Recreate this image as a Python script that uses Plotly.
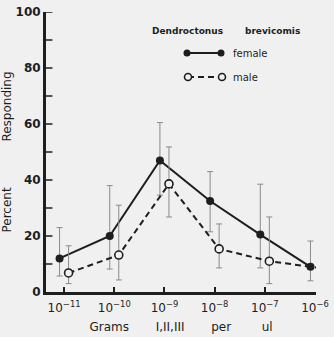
import plotly.graph_objects as go

# ---- data ----
exponents = [-11, -10, -9, -8, -7, -6]
tick_labels = ["10<sup>−11</sup>", "10<sup>−10</sup>", "10<sup>−9</sup>",
               "10<sup>−8</sup>", "10<sup>−7</sup>", "10<sup>−6</sup>"]
female_y = [12, 20, 47, 32.5, 20.5, 9]
female_hi = [23, 38, 60.5, 43, 38.5, 18.2]
female_lo = [5.7, 8.2, 34.6, 21.5, 8.6, 4]
male_y = [6.8, 13.2, 38.6, 15.4, 11, 8.6]
male_hi = [16.5, 31, 51.8, 24.3, 26.8, 18.2]
male_lo = [3, 4.3, 26.8, 8.6, 3, 4]

BG = "#f0f0f0"
INK = "#1e1e1e"
ERR = "#8a8a8a"
FONT = "DejaVu Sans"
NB = "\u00a0"

off = 0.09
fx = [e - off for e in exponents]
mx = [e + off for e in exponents]

fig = go.Figure()

fig.add_trace(go.Scatter(
    x=fx, y=female_y, mode="lines+markers", cliponaxis=False,
    line=dict(color=INK, width=2),
    marker=dict(symbol="circle", size=8, color=INK),
    error_y=dict(type="data", symmetric=False,
                 array=[h - v for h, v in zip(female_hi, female_y)],
                 arrayminus=[v - l for l, v in zip(female_lo, female_y)],
                 color=ERR, thickness=1, width=3),
    showlegend=False))

fig.add_trace(go.Scatter(
    x=mx, y=male_y, mode="lines+markers", cliponaxis=False,
    line=dict(color=INK, width=2, dash="6px,4px"),
    marker=dict(symbol="circle", size=8, color=BG, line=dict(color=INK, width=1.6)),
    error_y=dict(type="data", symmetric=False,
                 array=[h - v for h, v in zip(male_hi, male_y)],
                 arrayminus=[v - l for l, v in zip(male_lo, male_y)],
                 color=ERR, thickness=1, width=3),
    showlegend=False))

# legend samples on an overlay axis in plot-pixel units
fig.add_trace(go.Scatter(
    x=[187, 221], y=[53, 53], xaxis="x2", yaxis="y2", mode="lines+markers",
    line=dict(color=INK, width=2), marker=dict(size=7, color=INK),
    showlegend=False, hoverinfo="skip"))
fig.add_trace(go.Scatter(
    x=[188, 222], y=[77, 77], xaxis="x2", yaxis="y2", mode="lines+markers",
    line=dict(color=INK, width=2, dash="6px,4px"),
    marker=dict(size=7, color=BG, line=dict(color=INK, width=1.6)),
    showlegend=False, hoverinfo="skip"))

L, R, T, B = 46, 18, 12, 45
fig.update_layout(
    width=334, height=337,
    margin=dict(l=L, r=R, t=T, b=B, autoexpand=False),
    paper_bgcolor=BG, plot_bgcolor=BG,
    font=dict(family=FONT, color=INK),
    xaxis=dict(range=[-11.36, -5.98], tickvals=exponents, ticktext=tick_labels,
               ticks="inside", ticklen=5, tickwidth=1.5, tickcolor=INK,
               showline=True, linewidth=3, linecolor=INK,
               showgrid=False, zeroline=False, automargin=False,
               ticklabelstandoff=3,
               tickfont=dict(size=12, family=FONT, color=INK),
               title=dict(text="Grams" + NB * 7 + "I,II,III" + NB * 7 + "per" + NB * 8 + "ul",
                          font=dict(size=12, family=FONT, color=INK), standoff=9)),
    yaxis=dict(range=[0, 100], tickvals=[0, 20, 40, 60, 80, 100],
               ticks="", showline=True, linewidth=3, linecolor=INK,
               showgrid=False, zeroline=False, automargin=False,
               tickfont=dict(size=12, family=FONT, weight="bold", color=INK),
               title=dict(text="Percent" + NB * 12 + "Responding",
                          font=dict(size=12, family=FONT, color=INK), standoff=4)),
    xaxis2=dict(overlaying="x", range=[L, 334 - R], visible=False, fixedrange=True),
    yaxis2=dict(overlaying="y", range=[337 - B, T], visible=False, fixedrange=True),
    showlegend=False,
)

# minor/major inside ticks on y axis every 10
shapes = []
for v in range(10, 101, 10):
    shapes.append(dict(type="line", xref="paper", yref="y", x0=0, x1=0.024,
                       y0=v, y1=v, line=dict(color=INK, width=1.5)))
fig.update_layout(shapes=shapes)

fig.add_annotation(xref="x2", yref="y2", x=226, y=31,
                   text="Dendroctonus" + NB * 7 + "brevicomis",
                   showarrow=False, font=dict(size=9, family=FONT, weight="bold", color=INK))
fig.add_annotation(xref="x2", yref="y2", x=231, y=53, xanchor="left",
                   text="female", showarrow=False, font=dict(size=10, family=FONT, color=INK))
fig.add_annotation(xref="x2", yref="y2", x=231, y=77, xanchor="left",
                   text="male", showarrow=False, font=dict(size=10, family=FONT, color=INK))

fig.write_html("out.html")
